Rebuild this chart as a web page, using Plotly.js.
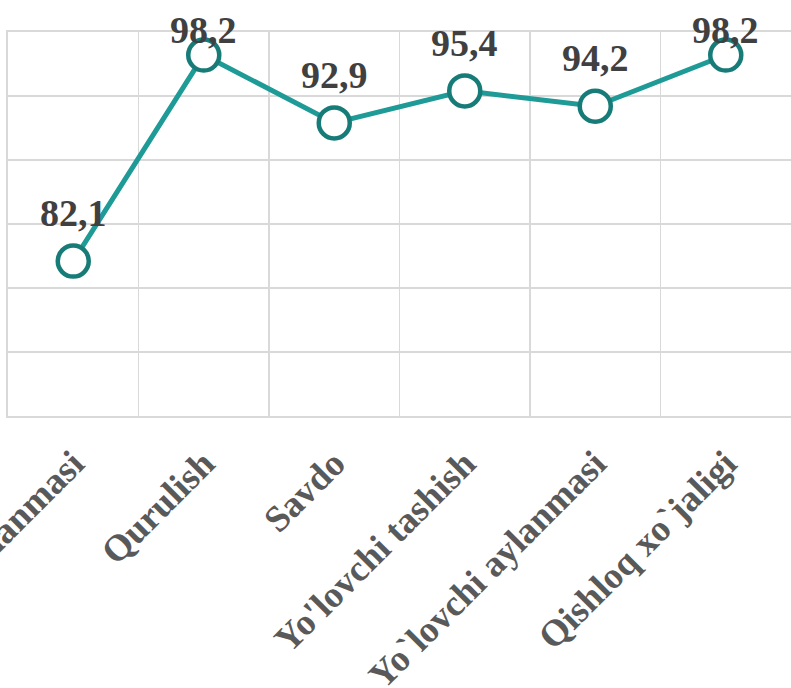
<!DOCTYPE html>
<html>
<head>
<meta charset="utf-8">
<script src="https://cdn.plot.ly/plotly-3.0.1.min.js"></script>
<style>html,body{margin:0;padding:0;background:#fff;}#chart{width:791px;height:688px;}</style>
</head>
<body>
<div id="chart"></div>
<script>
const categories = ["Yuk aylanmasi", "Qurulish", "Savdo", "Yo'lovchi tashish", "Yo`lovchi aylanmasi", "Qishloq xo`jaligi"];
const values = [82.1, 98.2, 92.9, 95.4, 94.2, 98.2];
const yTicks = [70, 75, 80, 85, 90, 95, 100];

const W = 791, H = 688;
const M = {l: 8, r: 0, t: 32, b: 272};
const yMin = 70, yMax = 100;
const plotH = H - M.t - M.b;
const pxPerUnit = plotH / (yMax - yMin);

const trace = {
  type: 'scatter',
  mode: 'lines+markers',
  x: categories,
  y: values,
  line: {color: '#1E9A97', width: 5},
  marker: {symbol: 'circle', size: 31, color: '#ffffff', line: {color: '#177C78', width: 4.5}},
  cliponaxis: false,
  hoverinfo: 'skip'
};

const fmt = v => v.toFixed(1).replace('.', ',');
const annotations = categories.map((c, i) => {
  const yPix = M.t + (yMax - values[i]) * pxPerUnit;
  const center = Math.max(yPix - 48, 30);
  return {
    x: c, y: values[i], xref: 'x', yref: 'y',
    text: '<b>' + fmt(values[i]) + '</b>',
    showarrow: false,
    yshift: yPix - center,
    font: {family: 'Liberation Serif, Times New Roman, serif', size: 38, color: '#404040'}
  };
});

const layout = {
  width: W, height: H,
  margin: M,
  paper_bgcolor: '#ffffff', plot_bgcolor: '#ffffff',
  showlegend: false,
  separators: ', ',
  xaxis: {
    type: 'category',
    range: [-0.5, categories.length - 0.5],
    tickson: 'boundaries',
    showgrid: true, gridcolor: '#D9D9D9', gridwidth: 1.5,
    zeroline: false,
    showline: true, linecolor: '#D9D9D9', linewidth: 2, mirror: true,
    ticks: '',
    tickangle: -45,
    ticklabelstandoff: 9,
    tickfont: {family: 'Liberation Serif, Times New Roman, serif', size: 37, color: '#595959', weight: 'bold'},
    automargin: false,
    fixedrange: true
  },
  yaxis: {
    range: [yMin, yMax],
    tickvals: yTicks,
    showticklabels: false,
    showgrid: true, gridcolor: '#D9D9D9', gridwidth: 1.5,
    zeroline: false,
    showline: true, linecolor: '#D9D9D9', linewidth: 2,
    ticks: '',
    automargin: false,
    fixedrange: true
  },
  annotations: annotations
};

Plotly.newPlot('chart', [trace], layout, {displayModeBar: false, staticPlot: true});
</script>
</body>
</html>
